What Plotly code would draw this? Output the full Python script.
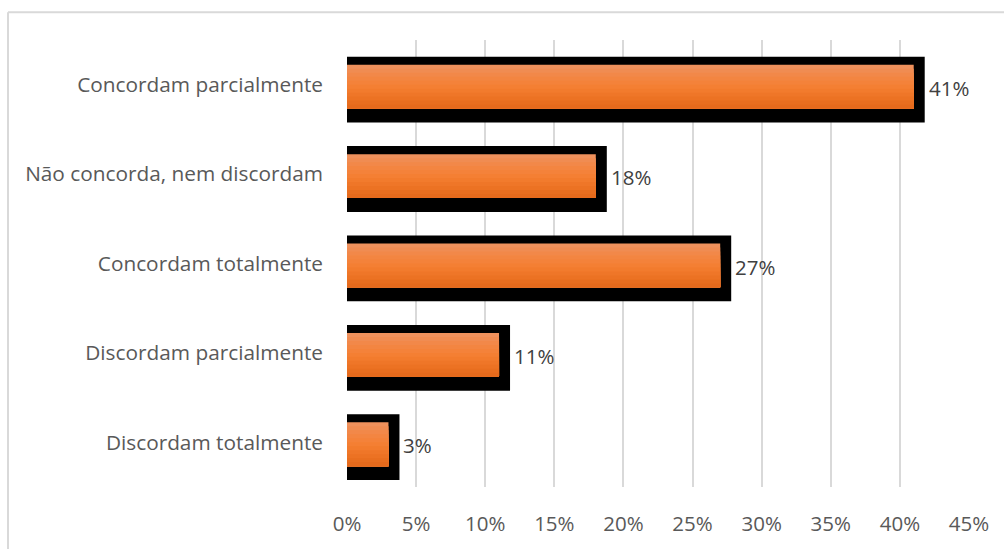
import plotly.graph_objects as go

# Survey responses (share of respondents, %)
categories = [
    "Concordam parcialmente",
    "Não concorda, nem discordam",
    "Concordam totalmente",
    "Discordam parcialmente",
    "Discordam totalmente",
]
values = [41, 18, 27, 11, 3]
tick_vals = [0, 5, 10, 15, 20, 25, 30, 35, 40, 45]
tick_text = [f"{v}%" for v in tick_vals]

# vertical gradient of the orange fill, top to bottom
shades = ["#EF915C", "#F08C52", "#F28849", "#F38541", "#F4823A", "#F47F33",
          "#F27B2D", "#EF7628", "#EC7223", "#E86E1F", "#E56A1C"]

FONT = "Open Sans"
BAR_W = 0.49
SHIFT = 0.022

fig = go.Figure()

# black frame behind each bar, shifted slightly downward
fig.add_trace(go.Bar(
    y=categories, x=values, orientation="h",
    width=BAR_W, offset=-BAR_W / 2 + SHIFT + 0.033,
    marker=dict(color="black", line=dict(color="black", width=22)),
    hoverinfo="skip", showlegend=False,
))

# orange fill: each layer starts one step lower and runs to the bar's
# bottom edge, so later (darker) layers cover the lower part of earlier ones
n = len(shades)
strip = BAR_W / n
for k, col in enumerate(shades):
    fig.add_trace(go.Bar(
        y=categories, x=values, orientation="h",
        width=BAR_W - k * strip, offset=-BAR_W / 2 + SHIFT + k * strip,
        marker=dict(color=col, line=dict(width=0)),
        hoverinfo="skip", showlegend=False,
    ))

# value labels just past the black frame
annotations = [
    dict(x=v, y=c, xref="x", yref="y", text=f"{v}%", showarrow=False,
         xanchor="left", xshift=13, yshift=-3,
         font=dict(family=FONT, size=20.5, color="#404040"))
    for c, v in zip(categories, values)
]

L, R, T, B = 347, 35, 40, 59
W, H = 1004, 549
pw, ph = W - L - R, H - T - B

fig.update_layout(
    width=W, height=H,
    margin=dict(l=L, r=R, t=T, b=B, pad=0),
    barmode="overlay",
    plot_bgcolor="white", paper_bgcolor="white",
    font=dict(family=FONT, color="#595959"),
    annotations=annotations,
    xaxis=dict(
        range=[0, 45], tickvals=tick_vals, ticktext=tick_text,
        showgrid=True, gridcolor="#D9D9D9", gridwidth=2,
        zeroline=False, showline=False, ticks="",
        tickfont=dict(family=FONT, size=20.5, color="#595959"),
        ticklabelstandoff=22, fixedrange=True,
    ),
    yaxis=dict(
        autorange="reversed", showgrid=False, zeroline=False,
        showline=False, ticks="",
        tickfont=dict(family=FONT, size=20.8, color="#595959"),
        ticklabelstandoff=23, fixedrange=True,
    ),
    shapes=[
        # outer chart-area border (top and left edges)
        dict(type="line", xref="paper", yref="paper",
             x0=(8 - L) / pw, x1=(W + 5 - L) / pw,
             y0=(H - B - 12) / ph, y1=(H - B - 12) / ph,
             line=dict(color="#D9D9D9", width=2)),
        dict(type="line", xref="paper", yref="paper",
             x0=(8 - L) / pw, x1=(8 - L) / pw,
             y0=(H - B - 12) / ph, y1=-(B + 5) / ph,
             line=dict(color="#D9D9D9", width=2)),
    ],
)

fig.write_html("out.html")
